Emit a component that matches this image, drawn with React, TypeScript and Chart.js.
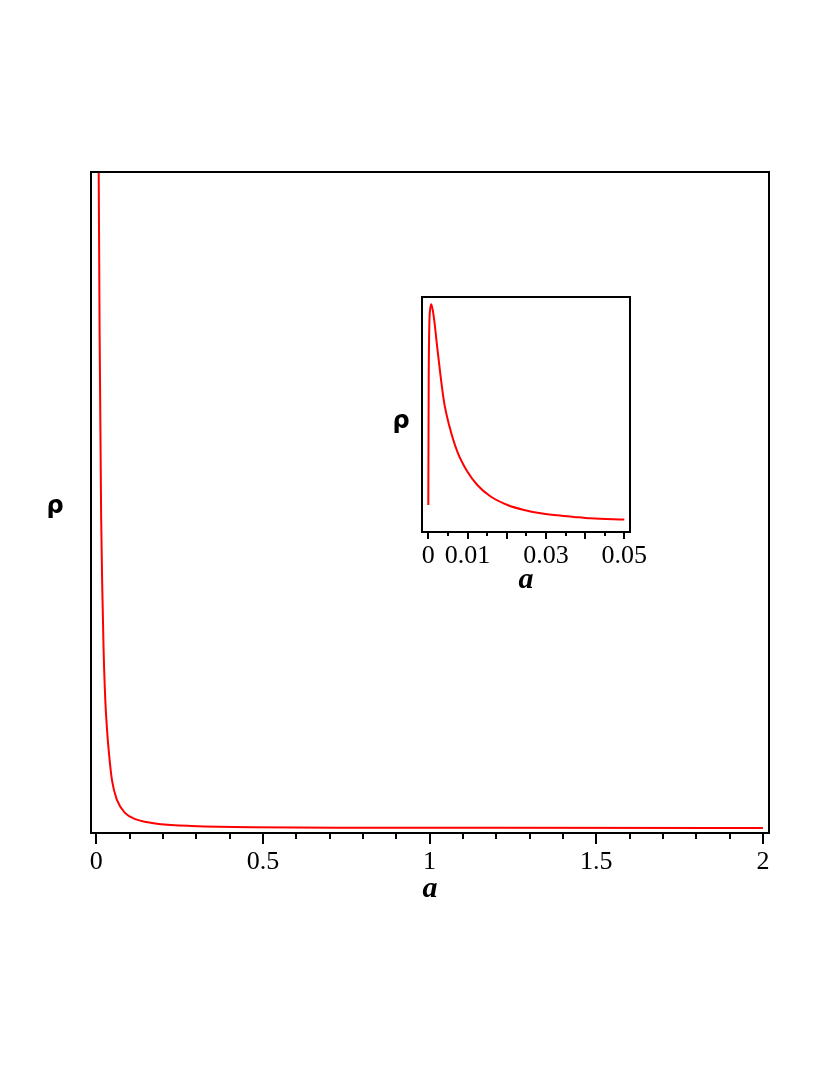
import React, { useEffect, useRef } from "react";
import { Chart, registerables } from "chart.js";

Chart.register(...registerables);

// ---- data (rho in arbitrary units, 0..100 of frame height) ----
const mainA = [0.005, 0.0072, 0.0111, 0.0145, 0.018, 0.022, 0.027, 0.032, 0.037, 0.047, 0.062, 0.087, 0.117, 0.15, 0.187, 0.287, 0.467, 0.8, 1.2, 2.0];
const mainRho = [150, 100, 68.6, 48, 36.9, 27.5, 20.1, 15.8, 12.6, 8.0, 5.0, 3.0, 2.1, 1.65, 1.36, 1.06, 0.86, 0.8, 0.78, 0.76];

const insetA = [0, 0.0001, 0.00026, 0.0005, 0.00077, 0.00145, 0.0023, 0.0032, 0.004, 0.0053, 0.0074, 0.00995, 0.0125, 0.0159, 0.0202, 0.0244, 0.0287, 0.0329, 0.0372, 0.0414, 0.05];
const insetRho = [11.5, 64, 88, 95, 96.9, 90.9, 78.2, 65.4, 55.5, 45.5, 34.2, 25.7, 20.0, 15.1, 11.5, 9.4, 8.0, 7.1, 6.4, 5.8, 5.3];

const mainTicks = [0, 0.1, 0.2, 0.3, 0.4, 0.5, 0.6, 0.7, 0.8, 0.9, 1.0, 1.1, 1.2, 1.3, 1.4, 1.5, 1.6, 1.7, 1.8, 1.9, 2.0];
const mainMajor = [0, 0.5, 1, 1.5, 2];
const mainLabelValues = [0, 0.5, 1, 1.5, 2];
const mainLabels = ["0", "0.5", "1", "1.5", "2"];

const insetTicks = [0, 0.005, 0.01, 0.015, 0.02, 0.025, 0.03, 0.035, 0.04, 0.045, 0.05];
const insetMajor = [0, 0.01, 0.02, 0.03, 0.04, 0.05];
const insetLabelValues = [0, 0.01, 0.03, 0.05];
const insetLabels = ["0", "0.01", "0.03", "0.05"];

const xTitle = "a";
const yTitle = "ρ";

const near = (a: number, b: number) => Math.abs(a - b) < 1e-9;

type Cfg = {
  a: number[];
  rho: number[];
  xMin: number;
  xMax: number;
  ticks: number[];
  major: number[];
  labelValues: number[];
  labels: string[];
  padding: { left: number; right: number; top: number; bottom: number };
  axisHeight: number;
  labelPad: number;
  majorLen: number;
  minorLen: number;
  xTitleDy: number;
  yTitleDx: number;
  yTitleDy: number;
};

function makeChart(canvas: HTMLCanvasElement, c: Cfg) {
  const framePlugin = {
    id: "frame",
    afterDraw(chart: any) {
      const { ctx, chartArea } = chart;
      const xs = chart.scales.x;
      ctx.save();
      ctx.strokeStyle = "#000";
      ctx.lineWidth = 2;
      ctx.strokeRect(chartArea.left, chartArea.top, chartArea.right - chartArea.left, chartArea.bottom - chartArea.top);
      ctx.beginPath();
      for (const v of c.ticks) {
        const px = Math.round(xs.getPixelForValue(v));
        const len = c.major.some((m) => near(m, v)) ? c.majorLen : c.minorLen;
        ctx.moveTo(px, chartArea.bottom);
        ctx.lineTo(px, chartArea.bottom + len);
      }
      ctx.stroke();
      ctx.fillStyle = "#000";
      ctx.textAlign = "center";
      ctx.textBaseline = "alphabetic";
      ctx.font = 'italic bold 30px "Liberation Serif"';
      ctx.fillText(xTitle, (chartArea.left + chartArea.right) / 2, chartArea.bottom + c.xTitleDy);
      ctx.font = 'bold 24px "DejaVu Sans"';
      ctx.fillText(yTitle, chartArea.left - c.yTitleDx, (chartArea.top + chartArea.bottom) / 2 + c.yTitleDy);
      ctx.restore();
    },
  };

  return new Chart(canvas, {
    type: "line",
    data: {
      datasets: [
        {
          data: c.a.map((a, i) => ({ x: a, y: c.rho[i] })),
          borderColor: "#ff0000",
          borderWidth: 2,
          pointRadius: 0,
          fill: false,
          cubicInterpolationMode: "monotone",
        },
      ],
    },
    options: {
      animation: false,
      responsive: false,
      devicePixelRatio: 1,
      layout: { padding: c.padding },
      plugins: { legend: { display: false }, tooltip: { enabled: false } },
      scales: {
        x: {
          type: "linear",
          min: c.xMin,
          max: c.xMax,
          grid: { display: false, drawTicks: false },
          border: { display: false },
          afterBuildTicks: (scale: any) => {
            scale.ticks = c.ticks.map((v) => ({ value: v }));
          },
          afterFit: (scale: any) => {
            scale.height = c.axisHeight;
          },
          ticks: {
            autoSkip: false,
            maxRotation: 0,
            minRotation: 0,
            padding: c.labelPad,
            color: "#000",
            font: { family: '"Liberation Serif"', size: 26 },
            callback: (value: any) => {
              const idx = c.labelValues.findIndex((l) => near(l, Number(value)));
              return idx >= 0 ? c.labels[idx] : "";
            },
          },
        },
        y: {
          type: "linear",
          display: false,
          min: 0,
          max: 100,
        },
      },
    },
    plugins: [framePlugin],
  } as any);
}

function ChartCanvas({ cfg, left, top, width, height }: { cfg: Cfg; left: number; top: number; width: number; height: number }) {
  const ref = useRef<HTMLCanvasElement | null>(null);
  useEffect(() => {
    if (!ref.current) return;
    const ch = makeChart(ref.current, cfg);
    return () => ch.destroy();
  }, []);
  return (
    <canvas
      ref={ref}
      width={width}
      height={height}
      style={{ position: "absolute", left, top, width, height, display: "block" }}
    />
  );
}

const mainCfg: Cfg = {
  a: mainA,
  rho: mainRho,
  xMin: -0.0159,
  xMax: 2.0183,
  ticks: mainTicks,
  major: mainMajor,
  labelValues: mainLabelValues,
  labels: mainLabels,
  padding: { left: 91, right: 61, top: 172, bottom: 1075 - 833 - 60 },
  axisHeight: 60,
  labelPad: 14,
  majorLen: 11,
  minorLen: 6,
  xTitleDy: 64,
  yTitleDx: 36,
  yTitleDy: 10,
};

const insetCfg: Cfg = {
  a: insetA,
  rho: insetRho,
  xMin: -0.00161,
  xMax: 0.05145,
  ticks: insetTicks,
  major: insetMajor,
  labelValues: insetLabelValues,
  labels: insetLabels,
  padding: { left: 52, right: 40, top: 17, bottom: 330 - 252 - 50 },
  axisHeight: 50,
  labelPad: 9,
  majorLen: 7,
  minorLen: 4,
  xTitleDy: 56,
  yTitleDx: 21,
  yTitleDy: 13,
};

export default function App() {
  return (
    <div style={{ position: "absolute", left: 0, top: 0, width: 830, height: 1075, background: "#fff" }}>
      <ChartCanvas cfg={mainCfg} left={0} top={0} width={830} height={1075} />
      <ChartCanvas cfg={insetCfg} left={370} top={280} width={300} height={330} />
    </div>
  );
}
